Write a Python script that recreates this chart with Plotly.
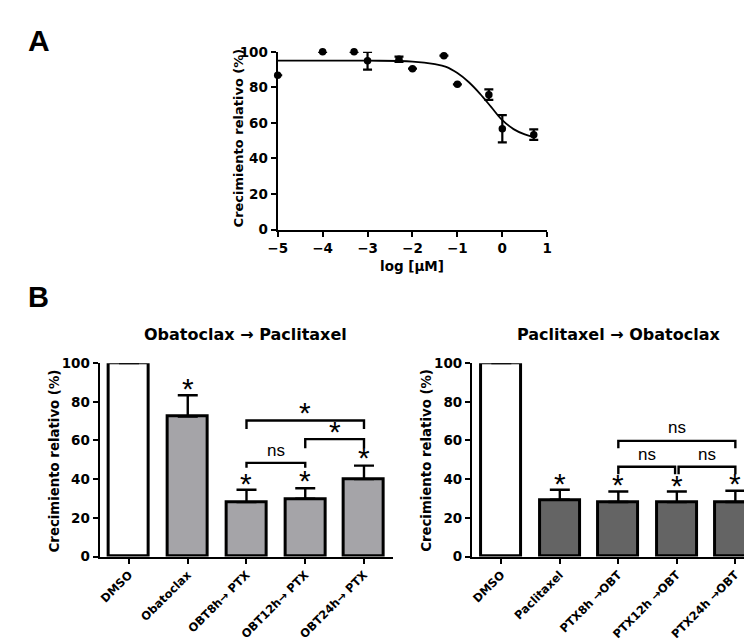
import plotly.graph_objects as go

# ---------------- Data ----------------
# Panel A: dose response
logdose = [-5, -4, -3.3, -3, -2.3, -2, -1.3, -1, -0.3, 0, 0.7]
growth = [86.8, 100, 100, 95, 95.8, 90.5, 97.8, 81.7, 75.9, 56.7, 53.4]
growth_err = [0, 0, 0, 5, 1.5, 0, 0, 0, 3, 7.7, 3]
# fitted curve
curve_x = [-5, -3, -2, -1.5, -1.25, -1, -0.75, -0.5, -0.25, 0, 0.25, 0.5, 0.7]
curve_y = [95, 95, 94.5, 93, 91.5, 88, 83, 76.5, 69, 61.5, 56.5, 53.5, 52]

# Panel B left
cats_left = ["DMSO", "Obatoclax", "OBT8h\u2192 PTX", "OBT12h\u2192 PTX", "OBT24h\u2192 PTX"]
vals_left = [100, 72.4, 28.1, 29.9, 40.0]
err_left = [0, 11.0, 6.4, 5.4, 7.0]
star_left = [None, 87, 38, 39.2, 51]

# Panel B right
cats_right = ["DMSO", "Paclitaxel", "PTX8h \u2192OBT", "PTX12h \u2192OBT", "PTX24h \u2192OBT"]
vals_right = [100, 29.4, 28.2, 28.1, 28.2]
err_right = [0, 5.1, 5.4, 5.5, 5.8]
star_right = [None, 37.8, 37.1, 36.6, 37.8]

BOLD = "DejaVu Sans"
ARIAL = "Liberation Sans, Arial"
W, H = 752, 643


def px(x):
    return x / W


def py(y):
    return 1 - y / H


fig = go.Figure()

# ---- Panel A ----
fig.add_trace(go.Scatter(x=curve_x, y=curve_y, mode="lines", line=dict(color="black", width=1.8, shape="spline"),
                         xaxis="x", yaxis="y", showlegend=False, hoverinfo="skip", cliponaxis=False))
fig.add_trace(go.Scatter(x=logdose, y=growth, mode="markers",
                         marker=dict(color="black", size=7.5),
                         error_y=dict(type="data", array=growth_err, color="black", thickness=2.2, width=4.5),
                         xaxis="x", yaxis="y", showlegend=False, cliponaxis=False))

# ---- Panel B left ----
colors_left = ["white"] + ["#A5A4A8"] * 4
fig.add_trace(go.Bar(x=list(range(5)), y=vals_left, width=0.68,
                     marker=dict(color=colors_left, line=dict(color="black", width=3)),
                     error_y=dict(type="data", array=err_left, arrayminus=[0] * 5, symmetric=False,
                                  color="black", thickness=2.4, width=10),
                     xaxis="x2", yaxis="y2", showlegend=False, cliponaxis=False))

# ---- Panel B right ----
colors_right = ["white"] + ["#646464"] * 4
fig.add_trace(go.Bar(x=list(range(5)), y=vals_right, width=0.68,
                     marker=dict(color=colors_right, line=dict(color="black", width=3)),
                     error_y=dict(type="data", array=err_right, arrayminus=[0] * 5, symmetric=False,
                                  color="black", thickness=2.4, width=10),
                     xaxis="x3", yaxis="y3", showlegend=False, cliponaxis=False))

tickfont = dict(family=BOLD, size=13.5, color="black", weight="bold")
xtickfont = dict(family=BOLD, size=11.5, color="black", weight="bold")
axis_common = dict(showgrid=False, zeroline=False, showline=True, linecolor="black", linewidth=2.2,
                   ticks="outside", ticklen=5, tickwidth=2, tickcolor="black")

fig.update_layout(
    width=W, height=H, margin=dict(l=0, r=0, t=0, b=0),
    paper_bgcolor="white", plot_bgcolor="white", bargap=0,
    xaxis=dict(domain=[px(265), px(540)], range=[-5, 1], tickmode="array", tickvals=[-5, -4, -3, -2, -1, 0, 1],
               anchor="y", tickfont=tickfont, **axis_common),
    yaxis=dict(domain=[py(219), py(36.7)], range=[0, 100], tickmode="array", tickvals=[0, 20, 40, 60, 80, 100],
               anchor="x", tickfont=tickfont, **axis_common),
    xaxis2=dict(domain=[px(83.3), px(383)], range=[-0.5, 4.5], tickmode="array", tickvals=list(range(5)),
                ticktext=cats_left, tickangle=-45, anchor="y2", tickfont=xtickfont, **axis_common),
    yaxis2=dict(domain=[py(554.3), py(356)], range=[0, 100], tickmode="array", tickvals=[0, 20, 40, 60, 80, 100],
                anchor="x2", tickfont=tickfont, **axis_common),
    xaxis3=dict(domain=[px(463.3), 1.0], range=[-0.5, -0.5 + (752 - 463.3) / 59.7], tickmode="array",
                tickvals=list(range(5)), ticktext=cats_right, tickangle=-45, anchor="y3",
                tickfont=xtickfont, **axis_common),
    yaxis3=dict(domain=[py(554.3), py(356)], range=[0, 100], tickmode="array", tickvals=[0, 20, 40, 60, 80, 100],
                anchor="x3", tickfont=tickfont, **axis_common),
)

ann = []
# Panel letters
ann.append(dict(text="<b>A</b>", x=px(21.5), y=py(25.5), xref="paper", yref="paper", showarrow=False,
                font=dict(family=ARIAL, size=30, color="black"), xanchor="center", yanchor="middle"))
ann.append(dict(text="<b>B</b>", x=px(21), y=py(288), xref="paper", yref="paper", showarrow=False,
                font=dict(family=ARIAL, size=29, color="black"), xanchor="center", yanchor="middle"))
# Axis titles
ann.append(dict(text="<b>log [\u03bcM]</b>", x=px(402), y=py(256), xref="paper", yref="paper", showarrow=False,
                font=dict(family=BOLD, size=13.5, color="black"), xanchor="center", yanchor="middle"))
for xc, yc, sz in [(225, 125, 13), (36.7, 455.8, 13.3), (416.7, 455.8, 13.3)]:
    ann.append(dict(text="<b>Crecimiento relativo (%)</b>", x=px(xc), y=py(yc), xref="paper", yref="paper",
                    showarrow=False, textangle=-90, font=dict(family=BOLD, size=sz, color="black"),
                    xanchor="center", yanchor="middle"))
# Panel titles
ann.append(dict(text="<b>Obatoclax \u2192 Paclitaxel</b>", x=px(232), y=py(327), xref="paper", yref="paper",
                showarrow=False, font=dict(family=BOLD, size=16, color="black"), xanchor="center", yanchor="middle"))
ann.append(dict(text="<b>Paclitaxel \u2192 Obatoclax</b>", x=px(612.7), y=py(327), xref="paper", yref="paper",
                showarrow=False, font=dict(family=BOLD, size=16, color="black"), xanchor="center", yanchor="middle"))

STAR_SHIFT = 0.0


def star(xref, yref, x, y):
    return dict(text="*", x=x, y=y + STAR_SHIFT, xref=xref, yref=yref, showarrow=False,
                font=dict(family=ARIAL, size=30, color="black"), xanchor="center", yanchor="middle")


def label(xref, yref, x, y, t):
    return dict(text=t, x=x, y=y, xref=xref, yref=yref, showarrow=False,
                font=dict(family=ARIAL, size=17, color="black"), xanchor="center", yanchor="middle")


for i, s in enumerate(star_left):
    if s is not None:
        ann.append(star("x2", "y2", i, s))
for i, s in enumerate(star_right):
    if s is not None:
        ann.append(star("x3", "y3", i, s))

# brackets: (x0, x1, ytop, yleg, text, texty)
brackets_left = [(2, 3, 48.4, 45.9, "ns", 55.0), (3, 4, 60.7, 56.0, "*", 64.4), (2, 4, 70.3, 66.0, "*", 74.5)]
brackets_right = [(2, 2.97, 46.4, 42.5, "ns", 52.5), (3.03, 4, 46.4, 42.5, "ns", 52.5), (2, 4, 59.8, 56.0, "ns", 66.5)]

shapes = []
for (xa, ya), br in [(("x2", "y2"), brackets_left), (("x3", "y3"), brackets_right)]:
    for x0, x1, yt, yl, t, ty in br:
        shapes.append(dict(type="path", xref=xa, yref=ya,
                           path=f"M {x0},{yl} L {x0},{yt} L {x1},{yt} L {x1},{yl}",
                           line=dict(color="black", width=2.4)))
        if t == "*":
            ann.append(star(xa, ya, (x0 + x1) / 2, ty))
        else:
            ann.append(label(xa, ya, (x0 + x1) / 2, ty, t))

fig.update_layout(annotations=ann, shapes=shapes)
fig.write_html("out.html")
